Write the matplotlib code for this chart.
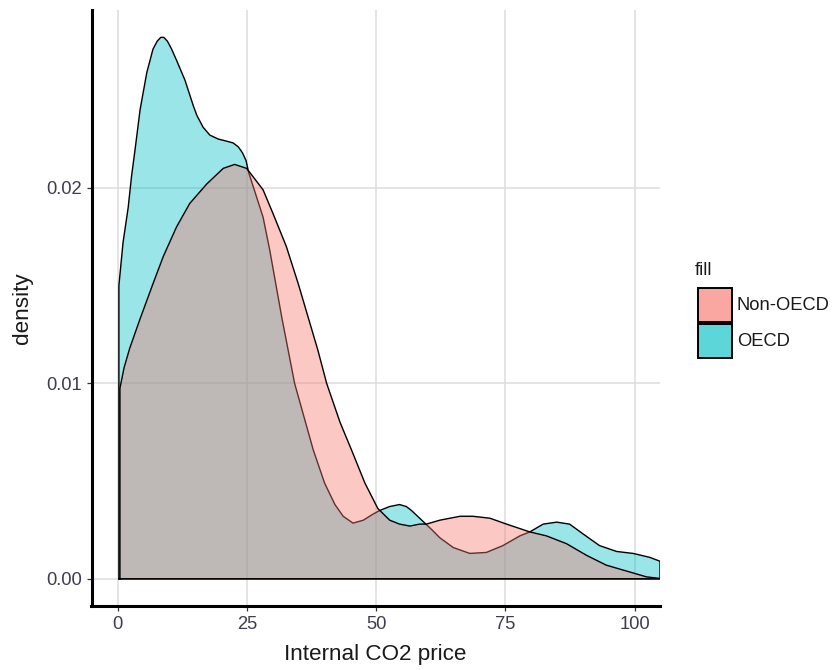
import matplotlib
matplotlib.use("Agg")
import matplotlib.pyplot as plt
from matplotlib.patches import Rectangle
from matplotlib.colors import to_rgba

# ---- data ----
oecd_x = [0.2, 1.0, 2.0, 2.65, 3.3, 4.3, 5.6, 6.8, 7.6, 8.3, 8.9, 9.6, 10.4, 11.4,
          13.0, 14.6, 15.3, 16.5, 17.8, 19.4, 20.9, 22.3, 23.3, 24.1, 24.8, 25.3,
          28.1, 29.4, 31.7, 34.2, 37.8, 40.0, 42.0, 43.6, 45.5, 47.5, 49.3, 50.7,
          52.6, 54.5, 55.8, 56.8, 58.4, 59.4, 60.8, 62.3, 64.9, 68.1, 71.3, 74.5,
          77.8, 79.7, 82.3, 84.9, 87.4, 90.0, 93.2, 96.5, 99.7, 102.9, 104.9]
oecd_y = [0.0150, 0.0172, 0.0190, 0.0206, 0.0219, 0.0240, 0.0259, 0.0271, 0.0275,
          0.0277, 0.0277, 0.0275, 0.0271, 0.0265, 0.0255, 0.0242, 0.0237, 0.0231,
          0.0227, 0.0225, 0.0224, 0.0223, 0.0221, 0.0218, 0.0214, 0.0208, 0.0185,
          0.0168, 0.0134, 0.0100, 0.0066, 0.0049, 0.0038, 0.0032, 0.00285, 0.0030,
          0.0033, 0.0035, 0.0037, 0.0038, 0.0037, 0.0035, 0.0031, 0.00285, 0.0025,
          0.0021, 0.0016, 0.0013, 0.00135, 0.0017, 0.0022, 0.0024, 0.0028, 0.0029,
          0.0028, 0.0023, 0.0017, 0.0014, 0.0013, 0.0011, 0.0009]

nonoecd_x = [0.4, 1.2, 2.3, 4.3, 6.8, 8.8, 11.35, 13.9, 17.2, 20.4, 22.6, 24.9, 25.5,
             28.1, 30.0, 32.6, 34.9, 38.7, 40.4, 43.0, 45.2, 47.8, 50.3, 52.6, 54.5,
             56.5, 58.4, 59.7, 62.3, 66.2, 68.7, 72.0, 75.2, 79.7, 82.9, 86.8, 90.7,
             94.5, 98.4, 102.3, 104.9]
nonoecd_y = [0.00975, 0.0108, 0.0118, 0.0133, 0.0151, 0.0165, 0.0180, 0.0192, 0.0202,
             0.0210, 0.0212, 0.0210, 0.0208, 0.0199, 0.0187, 0.0170, 0.0151, 0.0117,
             0.0100, 0.0080, 0.0066, 0.0049, 0.0036, 0.0030, 0.0028, 0.0027, 0.0028,
             0.0028, 0.0030, 0.0032, 0.0032, 0.0031, 0.0028, 0.0024, 0.0022, 0.0018,
             0.0012, 0.0007, 0.0004, 0.0001, 0.00002]

groups = ["Non-OECD", "OECD"]
colors = {"Non-OECD": "#F8766D", "OECD": "#00BFC4"}
x_ticks = [0, 25, 50, 75, 100]
y_ticks = [0.00, 0.01, 0.02]
y_ticklabels = ["0.00", "0.01", "0.02"]

W, H = 835, 670
plt.rcParams['font.family'] = ['Liberation Sans', 'DejaVu Sans']
fig = plt.figure(figsize=(W / 100, H / 100), dpi=100)

ax = fig.add_axes([91.5 / W, 1 - 606 / H, (660 - 91.5) / W, (606 - 10) / H])

def draw(xs, ys, col, z):
    px = [xs[0]] + list(xs) + [xs[-1]]
    py = [0.0] + list(ys) + [0.0]
    ax.fill(px, py, facecolor=col, alpha=0.4, edgecolor='none', zorder=z)
    ax.plot(px + [px[0]], py + [py[0]], color='black', lw=1.0, zorder=z + 0.1,
            solid_joinstyle='round')

draw(oecd_x, oecd_y, colors["OECD"], 2)
draw(nonoecd_x, nonoecd_y, colors["Non-OECD"], 3)

ax.set_xlim(-5.1, 104.9)
ax.set_ylim(-0.00139, 0.0291)
ax.set_xticks(x_ticks)
ax.set_yticks(y_ticks)
ax.set_yticklabels(y_ticklabels)
ax.grid(True, color='#DCDCDC', lw=1.1)
ax.set_axisbelow(True)
for s in ['top', 'right']:
    ax.spines[s].set_visible(False)
for s in ['left', 'bottom']:
    ax.spines[s].set_linewidth(2.2)
    ax.spines[s].set_color('black')
    ax.spines[s].set_capstyle('projecting')
ax.tick_params(direction='out', length=3.6, width=0.9, color='#333333',
               labelsize=13.2, labelcolor='#3d3d4d', pad=3.5)

ax.set_xlabel("Internal CO2 price", fontsize=16.2, color='#1a1a1a')
ax.set_ylabel("density", fontsize=16.2, color='#1a1a1a')
ax.xaxis.set_label_coords(0.5, (606 - 644) / 596)
ax.yaxis.set_label_coords((33 - 91.5) / 568.5, 0.5)

# ---- legend ----
fig.text(695 / W, 1 - 270 / H, "fill", fontsize=13.2, color='#1a1a1a',
         ha='left', va='center')
key_y = {"Non-OECD": 288, "OECD": 323.5}
for g in groups:
    y0 = key_y[g]
    fig.add_artist(Rectangle((698 / W, 1 - (y0 + 34) / H), 34 / W, 34 / H,
                             transform=fig.transFigure,
                             facecolor=to_rgba(colors[g], 0.64),
                             edgecolor='black', lw=1.4))
    fig.text(737 / W, 1 - (y0 + 18) / H, g, fontsize=13.2, color='#1a1a1a',
             ha='left', va='center')

fig.savefig("out.png", dpi=100)
